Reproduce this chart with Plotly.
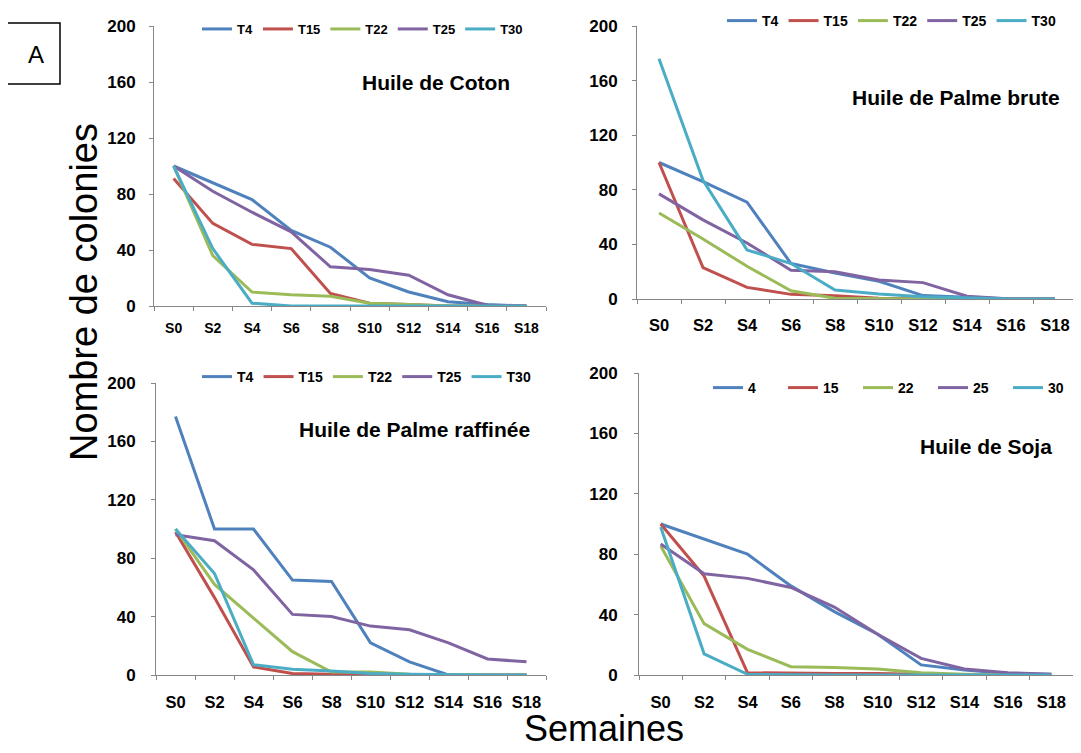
import plotly.graph_objects as go

W, H = 1081, 753
OFF = 8  # page body margin of the browser

weeks = ["S0", "S2", "S4", "S6", "S8", "S10", "S12", "S14", "S16", "S18"]
names_T = ["T4", "T15", "T22", "T25", "T30"]
names_soja = ["4", "15", "22", "25", "30"]
colors = ["#4F81BD", "#C0504D", "#9BBB59", "#8064A2", "#4BACC6"]
y_ticks = [0, 40, 80, 120, 160, 200]

coton_T4 = [100, 88, 76, 54, 42, 20, 10, 3, 1, 0]
coton_T15 = [91, 59, 44, 41, 9, 2, 1, 0, 0, 0]
coton_T22 = [100, 36, 10, 8, 7, 2, 1, 0, 0, 0]
coton_T25 = [100, 82, 67, 53, 28, 26, 22, 8, 0.5, 0]
coton_T30 = [100, 41, 2, 0, 0, 0, 0, 0, 0, 0]

palme_brute_T4 = [100, 86, 71, 26, 19, 13, 2.5, 1, 0, 0]
palme_brute_T15 = [100, 23, 8.5, 3.4, 2.4, 0.5, 0, 0, 0, 0]
palme_brute_T22 = [63, 44, 24, 6, 0.5, 0, 0, 0, 0, 0]
palme_brute_T25 = [77, 58, 41, 21, 20, 14, 12, 2, 0, 0]
palme_brute_T30 = [176, 87, 36, 26, 6.6, 3.7, 1.7, 1, 0, 0]

palme_raff_T4 = [177, 100, 100, 65, 64, 22, 9, 0, 0, 0]
palme_raff_T15 = [98, 53, 5.5, 1, 0.5, 0, 0, 0, 0, 0]
palme_raff_T22 = [100, 62, 39, 16, 2, 2, 0.5, 0, 0, 0]
palme_raff_T25 = [96, 92, 72, 41.5, 40, 33.5, 31, 22, 11, 9]
palme_raff_T30 = [100, 69.5, 7, 4, 2.7, 1, 0.5, 0, 0, 0]

soja_4 = [100, 90, 80, 59, 42, 27, 6.7, 3.3, 1, 0.5]
soja_15 = [100, 65.5, 1.5, 1, 1, 1, 0.5, 0, 0, 0]
soja_22 = [85.5, 34, 17, 5.5, 5, 4, 1.5, 0.5, 0, 0]
soja_25 = [86.7, 67, 64, 58, 45, 27, 11, 4, 1.5, 0.5]
soja_30 = [98, 14, 0.5, 0, 0, 0, 0, 0, 0, 0]

titles = ["Huile de Coton", "Huile de Palme brute",
          "Huile de Palme raffinée", "Huile de Soja"]

panels_data = [
    [coton_T4, coton_T15, coton_T22, coton_T25, coton_T30],
    [palme_brute_T4, palme_brute_T15, palme_brute_T22, palme_brute_T25, palme_brute_T30],
    [palme_raff_T4, palme_raff_T15, palme_raff_T22, palme_raff_T25, palme_raff_T30],
    [soja_4, soja_15, soja_22, soja_25, soja_30],
]
panels_names = [names_T, names_T, names_T, names_soja]


def px(x):
    return (x - OFF) / W


def py(y):
    return 1 - (y - OFF) / H


# layout (page pixels): x0, x1, ytop, ybot
boxes = [(154, 546, 26, 306), (637, 1077, 26, 299),
         (156, 546, 383, 675), (639, 1073, 373, 675)]
xfont = [14, 16.5, 16.5, 16.5]
xstand = [9, 11, 12, 12]
ystand = [10, 11, 12, 13]
legend_pos = [(202, 29), (727, 21), (202, 377), (713, 388)]
legend_font = [13, 14, 14, 14]
legend_entry = [0, 0, 0, 30]
title_pos = [(435.5, 82), (956, 97), (414.5, 430), (986, 446)]

FONT = "Liberation Sans, Arial, sans-serif"
AXC = "#868686"

fig = go.Figure()
layout = dict(width=W, height=H,
              margin=dict(l=0, r=0, t=0, b=0, autoexpand=False),
              paper_bgcolor="white", plot_bgcolor="white", showlegend=True)

annotations = []
for p in range(4):
    xa = "x" if p == 0 else f"x{p+1}"
    ya = "y" if p == 0 else f"y{p+1}"
    lg = "legend" if p == 0 else f"legend{p+1}"
    for s in range(5):
        fig.add_trace(go.Scatter(
            x=weeks, y=panels_data[p][s], mode="lines", name=panels_names[p][s],
            line=dict(color=colors[s], width=3), xaxis=xa, yaxis=ya,
            legend=lg, cliponaxis=False, hoverinfo="skip"))
    x0, x1, yt, yb = boxes[p]
    xkey = "xaxis" if p == 0 else f"xaxis{p+1}"
    ykey = "yaxis" if p == 0 else f"yaxis{p+1}"
    layout[xkey] = dict(
        domain=[px(x0), px(x1)], anchor=ya, type="category",
        range=[-0.5, 9.5], tickson="boundaries", ticks="outside", ticklen=4,
        tickcolor=AXC, showline=True, linecolor=AXC, linewidth=1,
        showgrid=False, zeroline=False, fixedrange=True, tickangle=0,
        automargin=False,
        tickfont=dict(family=FONT, size=xfont[p], color="black", weight="bold"),
        ticklabelstandoff=xstand[p])
    layout[ykey] = dict(
        domain=[py(yb), py(yt)], anchor=xa, range=[0, 200],
        tickvals=y_ticks, ticks="outside", ticklen=4, tickcolor=AXC,
        showline=True, linecolor=AXC, linewidth=1, showgrid=False,
        zeroline=False, fixedrange=True, automargin=False,
        tickfont=dict(family=FONT, size=17, color="black", weight="bold"),
        ticklabelstandoff=ystand[p])
    lx, ly = legend_pos[p]
    leg = dict(orientation="h", x=px(lx - 5), y=py(ly), xanchor="left",
               yanchor="middle", bgcolor="rgba(0,0,0,0)", borderwidth=0,
               itemwidth=30,
               font=dict(family=FONT, size=legend_font[p], color="black",
                         weight="bold"))
    if legend_entry[p]:
        leg["entrywidth"] = legend_entry[p]
        leg["entrywidthmode"] = "pixels"
    layout[lg] = leg
    tx, ty = title_pos[p]
    annotations.append(dict(
        text=titles[p], x=px(tx), y=py(ty), xref="paper", yref="paper",
        xanchor="center", yanchor="middle", showarrow=False,
        font=dict(family=FONT, size=21, color="black", weight="bold")))

annotations.append(dict(
    text="Nombre de colonies", x=px(84), y=py(292), xref="paper",
    yref="paper", xanchor="center", yanchor="middle", showarrow=False,
    textangle=-90, font=dict(family=FONT, size=38, color="black")))
annotations.append(dict(
    text="Semaines", x=px(603.5), y=py(728), xref="paper", yref="paper",
    xanchor="center", yanchor="middle", showarrow=False,
    font=dict(family=FONT, size=36, color="black")))
annotations.append(dict(
    text="A", x=px(36), y=py(55), xref="paper", yref="paper",
    xanchor="center", yanchor="middle", showarrow=False,
    font=dict(family=FONT, size=24, color="black")))

layout["annotations"] = annotations
layout["shapes"] = [dict(type="rect", xref="paper", yref="paper",
                         x0=px(7), x1=px(60), y0=py(84), y1=py(23),
                         line=dict(color="black", width=1.5))]
fig.update_layout(**layout)
fig.write_html("out.html")
